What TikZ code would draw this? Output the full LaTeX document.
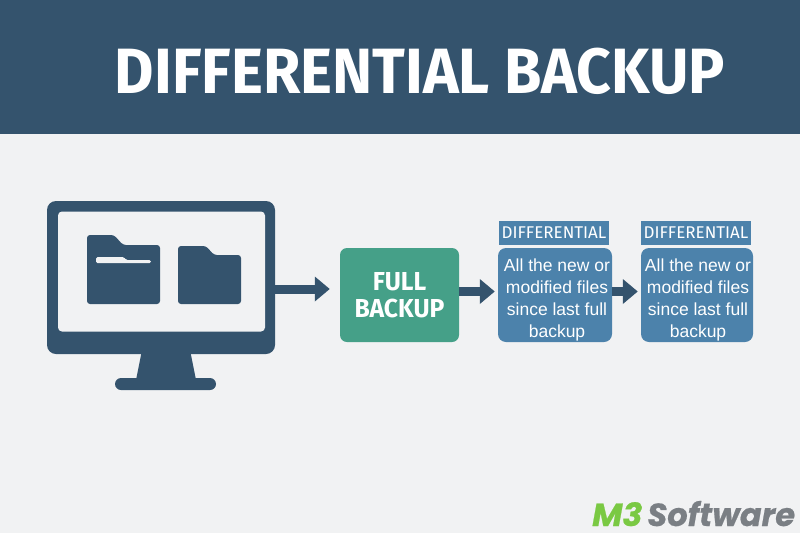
\documentclass[tikz,border=0pt]{standalone}
\usepackage{fontspec}
\usepackage{graphicx}
\usetikzlibrary{arrows.meta}
\setmainfont{Liberation Sans}
\newfontfamily\headfont{Fira Sans}
\newfontfamily\logofont{Poppins}[FakeBold=0.6]
\definecolor{navy}{HTML}{34536D}
\definecolor{paper}{HTML}{F1F2F3}
\definecolor{teal}{HTML}{45A088}
\definecolor{steel}{HTML}{4C82AB}
\definecolor{logogreen}{HTML}{7AC943}
\definecolor{logogray}{HTML}{7A7F84}
\newcommand{\difftext}[1]{\rule{0pt}{22.5pt}\hspace*{#1}All the new or\\\hspace*{#1}modified files\\\hspace*{#1}since last full\\\hspace*{#1}backup}
\tikzset{
  solidbox/.style={inner sep=0pt, rounded corners=#1},
  fullbox/.style={solidbox=7pt, fill=teal, text=white, minimum width=119pt, minimum height=94pt, align=center, font=\headfont\bfseries\fontsize{26}{27}\selectfont},
  diffbox/.style={solidbox=8pt, fill=steel, text=white, minimum height=94pt, align=center, font=\fontsize{17.5}{22}\selectfont},
  difflabel/.style={inner sep=0pt, fill=steel, text=white, minimum width=110pt, minimum height=24pt, font=\headfont\fontsize{17}{18}\selectfont},
  blockarrow/.style={draw=navy, line width=9pt, -{Triangle[length=15pt,width=24pt]}},
  shape fill/.style={fill=navy, draw=none}
}
\begin{document}
\begin{tikzpicture}[x=1pt,y=-1pt]
\useasboundingbox (0,0) rectangle (800,533);
\fill[paper] (0,0) rectangle (800,533);
\fill[navy] (0,0) rectangle (800,134);
\node[text=white, inner sep=0pt, anchor=base] (title) at (420,93) {\scalebox{0.947}[1]{\headfont\bfseries\fontsize{64}{64}\selectfont DIFFERENTIAL BACKUP}};
% monitor
\fill[shape fill] (142,350) -- (190,350) -- (196,380) -- (136,380) -- cycle;
\fill[shape fill, rounded corners=6pt] (115,378) rectangle (216,390);
\node[solidbox=9pt, shape fill, minimum width=228pt, minimum height=153pt] (monitor) at (161,277.5) {};
\node[solidbox=4pt, fill=paper, minimum width=207pt, minimum height=120pt] (screen) at (161.5,271.5) {};
% folders
\fill[shape fill, rounded corners=3pt] (87,304) -- (87,235) -- (114,235) -- (123,245) -- (160,245) -- (160,304) -- cycle;
\fill[paper, rounded corners=1.5pt] (96,263) -- (96,257) -- (124,257) -- (126,260) -- (151,260) -- (151,263) -- cycle;
\fill[shape fill, rounded corners=3pt] (178,304) -- (178,246) -- (206,246) -- (214,255) -- (241,255) -- (241,304) -- cycle;
% boxes
\node[fullbox] (full) at (399.5,295) {\scalebox{0.95}[1]{FULL}\\\scalebox{0.95}[1]{BACKUP}};
\node[diffbox, minimum width=114pt] (d1) at (555,295) {\difftext{4pt}};
\node[diffbox, minimum width=112pt] (d2) at (697,295) {\difftext{2pt}};
\node[difflabel] (l1) at (554,232.5) {DIFFERENTIAL};
\node[difflabel] (l2) at (696,232.5) {DIFFERENTIAL};
% arrows
\draw[blockarrow] ([yshift=-11.5pt]monitor.east) -- ([yshift=6pt,xshift=-10pt]full.west);
\draw[blockarrow] ([yshift=3.5pt]full.east) -- ([yshift=3.5pt,xshift=-3pt]d1.west);
\draw[blockarrow] ([yshift=3.5pt]d1.east) -- ([yshift=3.5pt,xshift=-3pt]d2.west);
% logo
\node[anchor=base west, inner sep=0pt] (logo) at (592,526) {\logofont\bfseries\itshape\fontsize{32}{32}\selectfont\textcolor{logogreen}{\scalebox{1.03}[1]{M3}}\kern5pt\textcolor{logogray}{Software}};
\end{tikzpicture}
\end{document}
